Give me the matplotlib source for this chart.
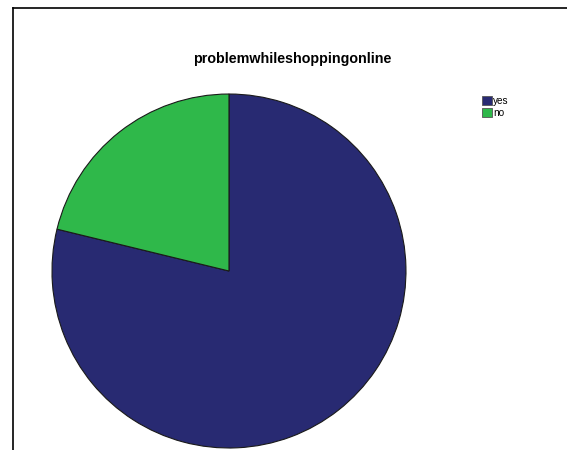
import matplotlib.pyplot as plt
from matplotlib.lines import Line2D
from matplotlib.patches import Patch

plt.rcParams['font.family'] = ['Liberation Sans', 'DejaVu Sans']

# answers to "problem while shopping online" (percent)
labels = ['yes', 'no']
shares = [78.8, 21.2]
colors = ['#282a72', '#2fb84a']

fig = plt.figure(figsize=(5.67, 4.5), dpi=100)

# pie area
ax = fig.add_axes([0.0917, 0.0044, 0.6243, 0.7867])
ax.pie(shares, colors=colors, startangle=90, counterclock=False,
       wedgeprops=dict(edgecolor='#1a1a1a', linewidth=0.8))
ax.set_xlim(-1.0, 1.0)
ax.set_ylim(-1.0, 1.0)
ax.set_aspect('equal')
ax.axis('off')

fig.text(0.516, 0.869, 'problemwhileshoppingonline', ha='center', va='center',
         fontsize=10.3, fontweight='bold')

# legend in the top right corner
handles = [Patch(facecolor=c, edgecolor='#555555', linewidth=0.6, label=l)
           for c, l in zip(colors, labels)]
fig.legend(handles=handles, loc='upper left', bbox_to_anchor=(0.842, 0.798),
           frameon=False, fontsize=7.2, handlelength=0.95, handleheight=0.95,
           handletextpad=0.15, labelspacing=0.2, borderpad=0.0)

# chart border: top and left edges
fig.add_artist(Line2D([0.023, 1.0], [0.982, 0.982], color='black', linewidth=1.2))
fig.add_artist(Line2D([0.023, 0.023], [0.982, 0.0], color='black', linewidth=1.2))

fig.savefig('out.png', dpi=100)
